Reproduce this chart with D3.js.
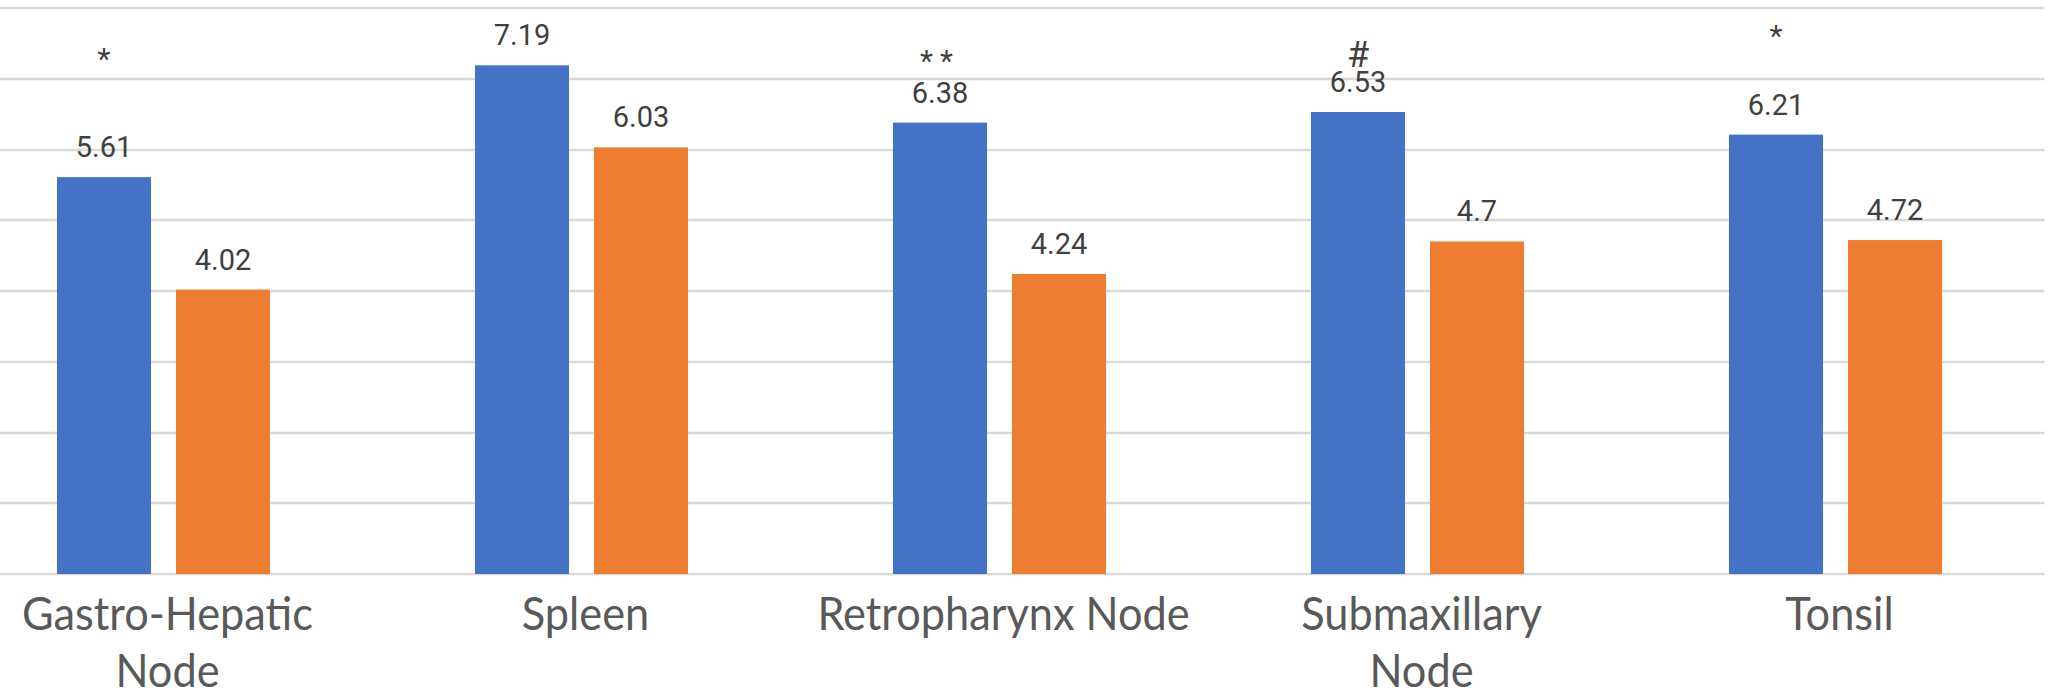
<!DOCTYPE html>
<html>
<head>
<meta charset="utf-8">
<script src="https://cdn.jsdelivr.net/npm/d3@7"></script>
<style>
  html, body { margin: 0; padding: 0; background: #ffffff; }
  svg { display: block; }
</style>
</head>
<body>
<svg id="chart" width="2053" height="694"></svg>
<script>
// Tissue categories (label lines) and the two measured series
const categories = ["Gastro-Hepatic Node", "Spleen", "Retropharynx Node", "Submaxillary Node", "Tonsil"];
const categoryLines = [["Gastro-Hepatic", "Node"], ["Spleen"], ["Retropharynx Node"], ["Submaxillary", "Node"], ["Tonsil"]];
const seriesNames = ["Series 1", "Series 2"];
const series1 = [5.61, 7.19, 6.38, 6.53, 6.21];
const series2 = [4.02, 6.03, 4.24, 4.7, 4.72];
const significance = ["*", "", "**", "#", "*"];
const yTicks = [0, 1, 2, 3, 4, 5, 6, 7, 8];

// Layout
const W = 2053, H = 694;
const plot = { left: -45.5, right: 2044.5, top: 8, bottom: 574 };
const colors = ["#4472C4", "#ED7D31"];
// baseline of each significance mark, in value units above the axis
const markLevel = [7.14, 0, 7.11, 7.17, 7.46];

const svg = d3.select("#chart");

const x0 = d3.scaleBand()
  .domain(categories)
  .range([plot.left, plot.right])
  .paddingInner(0.4904)
  .paddingOuter(0.2452);

const x1 = d3.scaleBand()
  .domain(seriesNames)
  .range([0, x0.bandwidth()])
  .paddingInner(0.21);

const y = d3.scaleLinear().domain([0, 8]).range([plot.bottom, plot.top]);

// Horizontal gridlines
svg.append("g")
  .selectAll("line")
  .data(yTicks)
  .join("line")
  .attr("x1", 0)
  .attr("x2", plot.right)
  .attr("y1", d => Math.round(y(d)))
  .attr("y2", d => Math.round(y(d)))
  .attr("stroke", "#d9d9d9")
  .attr("stroke-width", 2.5);

const rows = categories.map((c, i) => ({
  cat: c,
  values: [
    { s: seriesNames[0], v: series1[i], k: 0 },
    { s: seriesNames[1], v: series2[i], k: 1 }
  ]
}));

const groups = svg.append("g")
  .selectAll("g")
  .data(rows)
  .join("g")
  .attr("transform", d => `translate(${x0(d.cat)},0)`);

// Bars
groups.selectAll("rect")
  .data(d => d.values)
  .join("rect")
  .attr("x", d => x1(d.s))
  .attr("width", x1.bandwidth())
  .attr("y", d => y(d.v))
  .attr("height", d => y(0) - y(d.v))
  .attr("fill", d => colors[d.k]);

// Value labels above bars
groups.selectAll("text.val")
  .data(d => d.values)
  .join("text")
  .attr("class", "val")
  .attr("x", d => x1(d.s) + x1.bandwidth() / 2)
  .attr("y", d => y(d.v) - 20)
  .attr("text-anchor", "middle")
  .attr("font-family", "Roboto, 'Noto Sans', sans-serif")
  .attr("font-size", 29)
  .attr("fill", "#404040")
  .text(d => d.v);

// Significance marks above the first series
svg.append("g")
  .selectAll("text")
  .data(categories.map((c, i) => ({ cat: c, mark: significance[i], level: markLevel[i] })).filter(d => d.mark))
  .join("text")
  .attr("x", d => x0(d.cat) + x1(seriesNames[0]) + x1.bandwidth() / 2)
  .attr("y", d => y(d.level))
  .attr("text-anchor", "middle")
  .attr("font-family", "Roboto, 'Noto Sans', sans-serif")
  .attr("font-size", d => d.mark === "#" ? 36 : 30)
  .attr("letter-spacing", d => d.mark === "**" ? 7 : 0)
  .attr("fill", "#404040")
  .text(d => d.mark);

// Category labels under the axis, set in a narrowed humanist sans
const labelFont = "Lato, 'Open Sans', sans-serif";
const labelSize = 46;
const catLabels = svg.append("g")
  .selectAll("text")
  .data(categories.map((c, i) => ({ cat: c, lines: categoryLines[i], cx: x0(c) + x0.bandwidth() / 2 + 4 })))
  .join("text")
  .attr("text-anchor", "middle")
  .attr("font-family", labelFont)
  .attr("font-size", labelSize)
  .attr("fill", "#595959");

catLabels.selectAll("tspan")
  .data(d => d.lines)
  .join("tspan")
  .attr("x", 0)
  .attr("dy", (d, i) => i === 0 ? 0 : 57)
  .text(d => d);

// condense factor so the widest first line spans 291px
const probe = svg.append("text")
  .attr("font-family", labelFont)
  .attr("font-size", labelSize)
  .text("Gastro-Hepatic");
const condense = 291 / probe.node().getComputedTextLength();
probe.remove();

catLabels.attr("transform", d => `translate(${d.cx},630) scale(${condense},1)`);
</script>
</body>
</html>
